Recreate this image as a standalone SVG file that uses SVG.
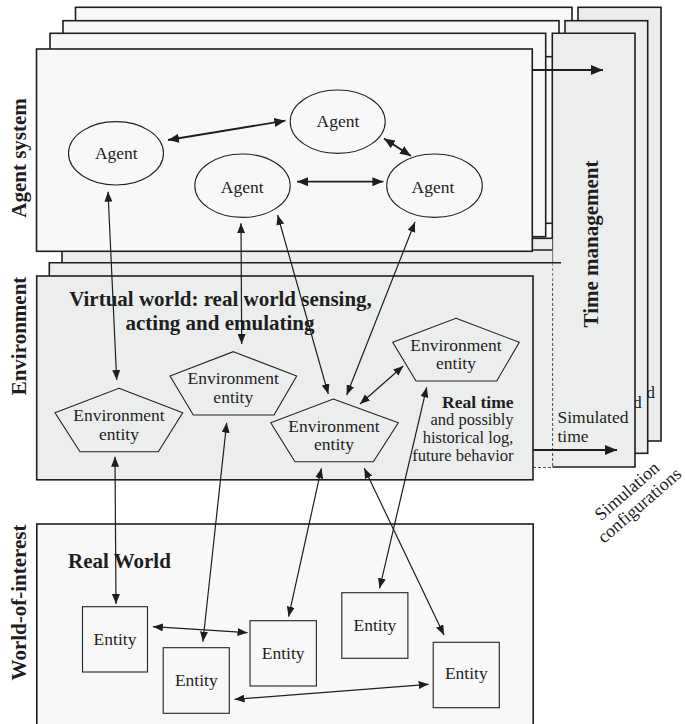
<svg xmlns="http://www.w3.org/2000/svg" width="685" height="724" viewBox="0 0 685 724">
<style>
.pa{fill:#f8f8f8;stroke:#1e1e1e;stroke-width:1.6}
.pg{fill:#eceeed;stroke:#1e1e1e;stroke-width:1.6}
.fg{fill:#eceeed;stroke:none}
.edge{fill:none;stroke:#1e1e1e;stroke-width:1.6}
.dot{fill:none;stroke:#1e1e1e;stroke-width:1.6;stroke-dasharray:3 2}
.ell{fill:#f8f8f8;stroke:#222;stroke-width:1.1}
.pent{fill:#eceeed;stroke:#222;stroke-width:1.1}
.box{fill:#f8f8f8;stroke:#222;stroke-width:1.1}
.t{font-family:"Liberation Serif","Times New Roman",serif;fill:#1e1e1e}
.lbl{font-size:17.5px;text-anchor:middle}
.big{font-size:21px;font-weight:bold}
.c{fill:none;stroke:#1e1e1e;stroke-width:1.2;marker-start:url(#ah);marker-end:url(#ah)}
.cm{fill:none;stroke:#1e1e1e;stroke-width:1.8;marker-start:url(#ahm);marker-end:url(#ahm)}
.ct{fill:none;stroke:#1e1e1e;stroke-width:2.2;marker-end:url(#ahb)}
</style>
<defs>
<marker id="ah" viewBox="0 0 10 8" refX="10" refY="4" markerWidth="10" markerHeight="8" orient="auto-start-reverse" markerUnits="userSpaceOnUse"><path d="M0,0 L10,4 L0,8 z" fill="#1e1e1e"/></marker>
<marker id="ahm" viewBox="0 0 11 9" refX="11" refY="4.5" markerWidth="11" markerHeight="9" orient="auto-start-reverse" markerUnits="userSpaceOnUse"><path d="M0,0 L11,4.5 L0,9 z" fill="#1e1e1e"/></marker>
<marker id="ahb" viewBox="0 0 12 10" refX="12" refY="5" markerWidth="12" markerHeight="10" orient="auto" markerUnits="userSpaceOnUse"><path d="M0,0 L12,5 L0,10 z" fill="#1e1e1e"/></marker>
</defs>

<g id="planes">
  <rect class="pa" x="75.5" y="7.3" width="496.5" height="203"/>
  <rect class="pg" x="578" y="7.3" width="83" height="433.7"/>
  <text class="t" font-size="17.5" x="646.3" y="397.6">d</text>
  <rect class="pa" x="63" y="20.7" width="496" height="202.6"/>
  <path class="edge" d="M545.7,56.7 H552.3"/>
  <rect class="pg" x="565" y="20.7" width="82.7" height="432.6"/>
  <text class="t" font-size="17.5" x="633" y="408">d</text>
  <rect class="pa" x="50" y="33.3" width="495.7" height="203.4"/>
  <rect class="fg" x="552.3" y="33.3" width="82.7" height="433.7"/>
  <path class="edge" d="M552.3,263 V33.3 H635 V467 H552.3"/>
  <path class="dot" d="M552.3,263 V467"/>
  <path class="dot" d="M533,467 H552.3"/>
  <rect class="fg" x="75" y="238.3" width="477.3" height="30"/>
  <path class="edge" d="M532,238.3 H552.3"/>
  <rect class="fg" x="62" y="250" width="490.3" height="30"/>
  <path class="edge" d="M62,276 V250 H552.3"/>
  <rect class="fg" x="49.3" y="262.7" width="503" height="204.3"/>
  <path class="edge" d="M49.3,290 V262.7 H561"/>
  <rect class="pa" x="36.5" y="49" width="495.8" height="202.3"/>
  <rect class="pg" x="36.7" y="276" width="496.3" height="203.8"/>
  <rect class="pa" x="36.8" y="524" width="496.4" height="210"/>
</g>

<g id="labels">
  <text class="t big" text-anchor="middle" transform="translate(26,158) rotate(-90)">Agent system</text>
  <text class="t big" text-anchor="middle" transform="translate(26,336) rotate(-90)">Environment</text>
  <text class="t big" text-anchor="middle" transform="translate(26,602.5) rotate(-90)">World-of-interest</text>
  <text class="t big" text-anchor="middle" transform="translate(598,244) rotate(-90)">Time management</text>
  <text class="t big" text-anchor="middle" x="220.5" y="306">Virtual world: real world sensing,</text>
  <text class="t big" text-anchor="middle" x="220" y="330">acting and emulating</text>
  <text class="t big" x="68" y="568">Real World</text>
  <text class="t" font-size="17.5" font-weight="bold" text-anchor="end" x="513.5" y="407.5">Real time</text>
  <text class="t" font-size="16.5" text-anchor="end" x="513.5" y="425.3">and possibly</text>
  <text class="t" font-size="16.5" text-anchor="end" x="513.5" y="443">historical log,</text>
  <text class="t" font-size="16.5" text-anchor="end" x="513.5" y="460.8">future behavior</text>
  <text class="t" font-size="17.5" x="557.5" y="423.3">Simulated</text>
  <text class="t" font-size="17.5" x="557.5" y="441.7">time</text>
  <text class="t" font-size="18" text-anchor="middle" transform="translate(627.5,491.7) rotate(-41)"><tspan x="0" y="5">Simulation</tspan><tspan x="0" y="24">configurations</tspan></text>
</g>

<g id="agent-1"><ellipse class="ell" cx="116" cy="153.3" rx="47.5" ry="31.7"/><text class="t lbl" x="116.3" y="159.3">Agent</text></g>
<g id="agent-2"><ellipse class="ell" cx="337.7" cy="121.7" rx="47.5" ry="31.7"/><text class="t lbl" x="338" y="126.7">Agent</text></g>
<g id="agent-3"><ellipse class="ell" cx="242.5" cy="185.7" rx="47.7" ry="31.7"/><text class="t lbl" x="242.2" y="192.7">Agent</text></g>
<g id="agent-4"><ellipse class="ell" cx="434.5" cy="185.7" rx="47.8" ry="31.7"/><text class="t lbl" x="433" y="192.7">Agent</text></g>

<g id="env-1"><polygon class="pent" points="119,388.3 182.7,412.7 158.3,451.7 80,451.7 55,412.7"/><text class="t lbl" x="119" y="421">Environment</text><text class="t lbl" x="119" y="440">entity</text></g>
<g id="env-2"><polygon class="pent" points="233.3,351.7 296.7,376 274,415 193.3,415 170,376"/><text class="t lbl" x="233.3" y="384">Environment</text><text class="t lbl" x="233.3" y="402.7">entity</text></g>
<g id="env-3"><polygon class="pent" points="333.3,399 398.3,422.7 373.3,461.7 295,461.7 270.7,422.7"/><text class="t lbl" x="334" y="431.7">Environment</text><text class="t lbl" x="334" y="450">entity</text></g>
<g id="env-4"><polygon class="pent" points="456,318.3 519.3,342.3 496.7,381 416,381 392.7,342.3"/><text class="t lbl" x="456" y="350.7">Environment</text><text class="t lbl" x="456" y="369.3">entity</text></g>

<g id="entity-1"><rect class="box" x="82.5" y="606.7" width="65" height="65.3"/><text class="t lbl" x="115" y="645">Entity</text></g>
<g id="entity-2"><rect class="box" x="163.2" y="647.7" width="66.1" height="65.6"/><text class="t lbl" x="196.3" y="686">Entity</text></g>
<g id="entity-3"><rect class="box" x="250" y="620.7" width="66.4" height="65.3"/><text class="t lbl" x="283.2" y="658.7">Entity</text></g>
<g id="entity-4"><rect class="box" x="341.8" y="592.7" width="66.1" height="65.6"/><text class="t lbl" x="374.9" y="630.7">Entity</text></g>
<g id="entity-5"><rect class="box" x="433.2" y="642.3" width="66.1" height="65.4"/><text class="t lbl" x="466.3" y="679.3">Entity</text></g>

<g id="connectors">
  <line class="ct" x1="532.3" y1="70" x2="603" y2="70"/>
  <line class="ct" x1="533" y1="450" x2="617" y2="450"/>
  <line class="cm" x1="168" y1="140" x2="285.4" y2="120.7"/>
  <line class="cm" x1="384" y1="138.5" x2="411" y2="156"/>
  <line class="cm" x1="297" y1="181.7" x2="383.4" y2="181.7"/>
  <line class="c" x1="108" y1="191.7" x2="116.7" y2="380"/>
  <line class="c" x1="241" y1="223.3" x2="241.7" y2="344"/>
  <line class="c" x1="277.6" y1="215" x2="328.3" y2="394"/>
  <line class="c" x1="415" y1="222" x2="346.7" y2="395"/>
  <line class="c" x1="360" y1="404" x2="403.3" y2="366"/>
  <line class="c" x1="115" y1="456.7" x2="116" y2="604"/>
  <line class="c" x1="226.7" y1="422.7" x2="202.9" y2="641.7"/>
  <line class="c" x1="321.4" y1="468.3" x2="288.6" y2="616.7"/>
  <line class="c" x1="364.3" y1="468.3" x2="444" y2="635"/>
  <line class="c" x1="426.7" y1="387.3" x2="379.6" y2="588.3"/>
  <line class="c" x1="152.9" y1="626.7" x2="247.5" y2="632.7"/>
  <line class="c" x1="234.6" y1="699.3" x2="428.6" y2="684.3"/>
</g>
</svg>
